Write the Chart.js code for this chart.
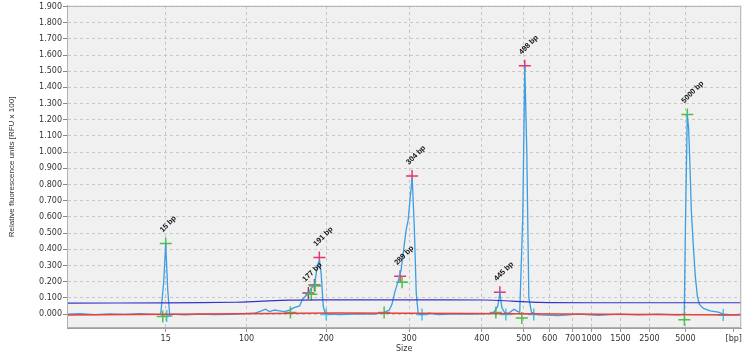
<!DOCTYPE html>
<html><head><meta charset="utf-8">
<script src="https://cdn.jsdelivr.net/npm/chart.js@4/dist/chart.umd.min.js"></script>
<style>html,body{margin:0;padding:0;background:#fff}#wrap{width:744px;height:356px}</style>
</head><body><div id="wrap"><canvas id="c" width="744" height="356"></canvas></div>
<script>
// x axis: migration time (arbitrary units), labelled with bp sizes
const tickTimes  = [14.64, 26.63, 38.46, 50.74, 61.54, 67.75, 71.6, 75.0, 77.81, 82.1, 86.39, 91.72, 98.9];
const tickLabels = ['15','100','200','300','400','500','600','700','1000','1500','2500','5000','[bp]'];
const yTicks = [0,0.1,0.2,0.3,0.4,0.5,0.6,0.7,0.8,0.9,1.0,1.1,1.2,1.3,1.4,1.5,1.6,1.7,1.8,1.9];

const traceTime = [0,1.9,4.1,6.4,8.6,10.8,13.0,13.9,14.35,14.64,14.94,15.24,15.53,17.5,19.7,21.9,24.1,26.3,27.8,28.85,29.45,30.0,30.8,31.5,32.25,33.0,33.7,34.5,34.9,35.35,35.8,36.25,36.7,37.0,37.3,37.45,37.7,38.0,38.3,38.9,40.4,43.3,45.6,47.04,47.8,48.2,48.65,49.1,49.55,50.0,50.3,50.6,50.9,51.2,51.5,51.8,52.1,52.5,53.7,55.2,57.4,59.6,62.6,63.3,63.9,64.2,64.5,64.9,65.5,66.3,66.7,67.15,67.6,67.9,68.2,68.5,68.9,70.0,72.9,75.9,78.8,81.8,84.8,87.7,90.7,91.55,91.75,92.0,92.2,92.45,92.6,92.9,93.2,93.5,93.8,94.4,95.4,96.6,97.35,98.8,100];
const traceRFU  = [0.000,0.002,-0.003,0.001,-0.002,0.003,-0.002,0.000,0.200,0.436,0.150,-0.010,0.000,-0.005,0.000,-0.004,-0.002,0.003,0.005,0.020,0.030,0.015,0.025,0.020,0.015,0.025,0.040,0.050,0.090,0.110,0.130,0.160,0.180,0.260,0.320,0.330,0.250,0.050,0.005,0.000,-0.003,0.002,0.000,0.010,0.025,0.060,0.140,0.200,0.270,0.420,0.520,0.580,0.720,0.840,0.550,0.130,0.000,-0.005,0.005,-0.003,0.002,0.000,0.003,0.010,0.050,0.130,0.040,0.010,0.005,0.030,0.020,0.010,0.600,1.530,1.000,0.100,0.010,-0.005,-0.010,0.000,-0.008,0.000,-0.005,0.000,-0.005,0.000,0.600,1.230,1.150,0.850,0.640,0.420,0.230,0.110,0.060,0.035,0.020,0.012,0.000,-0.005,0.000];

const thresholdTime = [0,14.6,25,29,33,38,50,62,66,70,80,100];
const thresholdRFU  = [0.068,0.069,0.073,0.080,0.086,0.088,0.088,0.087,0.080,0.072,0.070,0.070];

const baselineTime = [0,40,60,100];
const baselineRFU  = [-0.005,0.006,0.004,-0.005];

const peakLabels = ['15 bp','177 bp','191 bp','289 bp','304 bp','445 bp','498 bp','5000 bp'];
const peakTimes  = [14.64,35.8,37.43,49.41,51.18,64.2,67.9,92.0];
const peakRFU    = [0.436,0.13,0.35,0.233,0.853,0.135,1.534,1.233];

const greenTime = [14.2,14.64,33.14,36.24,36.8,47.04,49.7,63.61,67.46,92.01,91.57];
const greenRFU  = [-0.015,0.436,0.010,0.123,0.173,0.010,0.196,0.010,-0.025,1.233,-0.035];
const darkRedTime = [35.8,36.7];
const darkRedRFU  = [0.13,0.18];
const redTime = [37.43,49.41,51.18,64.2,67.9];
const redRFU  = [0.35,0.233,0.853,0.135,1.534];
const cyanTime = [14.79,38.46,52.66,65.09,69.23,97.34];
const cyanRFU  = [-0.012,-0.002,-0.003,-0.002,-0.003,-0.005];

const pts = (xs, ys) => xs.map((x, i) => ({x: x, y: ys[i]}));

const bgPlugin = {
  id: 'bg',
  beforeDraw(chart) {
    const a = chart.chartArea, ctx = chart.ctx;
    ctx.save(); ctx.fillStyle = '#f0f0f0';
    ctx.fillRect(a.left, a.top, a.right - a.left, a.bottom - a.top);
    ctx.restore();
  },
  afterDraw(chart) {
    const a = chart.chartArea, ctx = chart.ctx;
    ctx.save(); ctx.strokeStyle = '#b0b0b0'; ctx.lineWidth = 1;
    ctx.strokeRect(a.left + 0.5, a.top + 0.5, a.right - a.left - 1, a.bottom - a.top - 1);
    ctx.restore();
  }
};
const labelPlugin = {
  id: 'peakLabels',
  afterDatasetsDraw(chart) {
    const ctx = chart.ctx, xs = chart.scales.x, ys = chart.scales.y;
    ctx.save();
    ctx.fillStyle = '#111';
    ctx.font = 'bold 7.5px "Liberation Sans", Arial, sans-serif';
    ctx.textAlign = 'left'; ctx.textBaseline = 'alphabetic';
    peakLabels.forEach((lab, i) => {
      const px = xs.getPixelForValue(peakTimes[i]);
      const py = ys.getPixelForValue(peakRFU[i]);
      ctx.save();
      ctx.translate(px - 3, py - 11);
      ctx.rotate(-45 * Math.PI / 180);
      ctx.fillText(lab, 0, 0);
      ctx.restore();
    });
    ctx.restore();
  }
};

const cross = (data, color) => ({
  data: data, showLine: false, pointStyle: 'cross', pointRadius: 6, pointHoverRadius: 6,
  borderColor: color, backgroundColor: color, pointBorderWidth: 1.5, borderWidth: 1.5
});

new Chart(document.getElementById('c'), {
  type: 'line',
  data: {
    datasets: [
      {data: pts(baselineTime, baselineRFU), borderColor: '#e8403c', borderWidth: 1.5, pointRadius: 0, tension: 0},
      {data: pts(thresholdTime, thresholdRFU), borderColor: '#3434c8', borderWidth: 1.2, pointRadius: 0, tension: 0.3},
      {data: pts(traceTime, traceRFU), borderColor: '#3b9de2', borderWidth: 1.3, pointRadius: 0, tension: 0},
      cross(pts(greenTime, greenRFU), '#4cc04c'),
      cross(pts(darkRedTime, darkRedRFU), '#a8403a'),
      cross(pts(redTime, redRFU), '#e8336b'),
      cross(pts(cyanTime, cyanRFU), '#3cc8ec')
    ]
  },
  options: {
    responsive: false, animation: false,
    layout: {autoPadding: false, padding: {top: 3, right: 1, left: 0, bottom: 1}},
    plugins: {legend: {display: false}, tooltip: {enabled: false}},
    scales: {
      x: {
        type: 'linear', min: 0, max: 100,
        afterBuildTicks: s => { s.ticks = tickTimes.map(v => ({value: v})); },
        afterFit: s => { s.height = 27; },
        ticks: {
          autoSkip: false, maxRotation: 0, padding: 2, color: '#333',
          font: {family: '"DejaVu Sans", sans-serif', size: 8},
          callback: (v, i) => tickLabels[i]
        },
        grid: {
          color: c => (c.index === tickLabels.length - 1 ? 'rgba(0,0,0,0)' : '#c4c4c4'),
          tickColor: '#999', tickLength: 4, lineWidth: 1
        },
        border: {display: true, color: '#a0a0a0', dash: [3, 3]},
        title: {display: true, text: 'Size', color: '#333', padding: {top: 0, bottom: 1},
          font: {family: '"DejaVu Sans", sans-serif', size: 8}}
      },
      y: {
        type: 'linear', min: -0.086, max: 1.904,
        afterBuildTicks: s => { s.ticks = yTicks.map(v => ({value: v})); },
        afterFit: s => { s.width = 67; },
        ticks: {
          padding: 1, color: '#333',
          font: {family: '"DejaVu Sans", sans-serif', size: 8},
          callback: v => Number(v).toFixed(3)
        },
        grid: {color: '#c8c8c8', tickColor: '#888', tickLength: 4},
        border: {display: true, color: '#a0a0a0', dash: [3, 3]},
        title: {display: true, text: 'Relative fluorescence units [RFU x 100]', color: '#333',
          padding: {top: 7, bottom: 0},
          font: {family: '"Liberation Sans", Arial, sans-serif', size: 8}}
      }
    }
  },
  plugins: [bgPlugin, labelPlugin]
});
</script></body></html>
